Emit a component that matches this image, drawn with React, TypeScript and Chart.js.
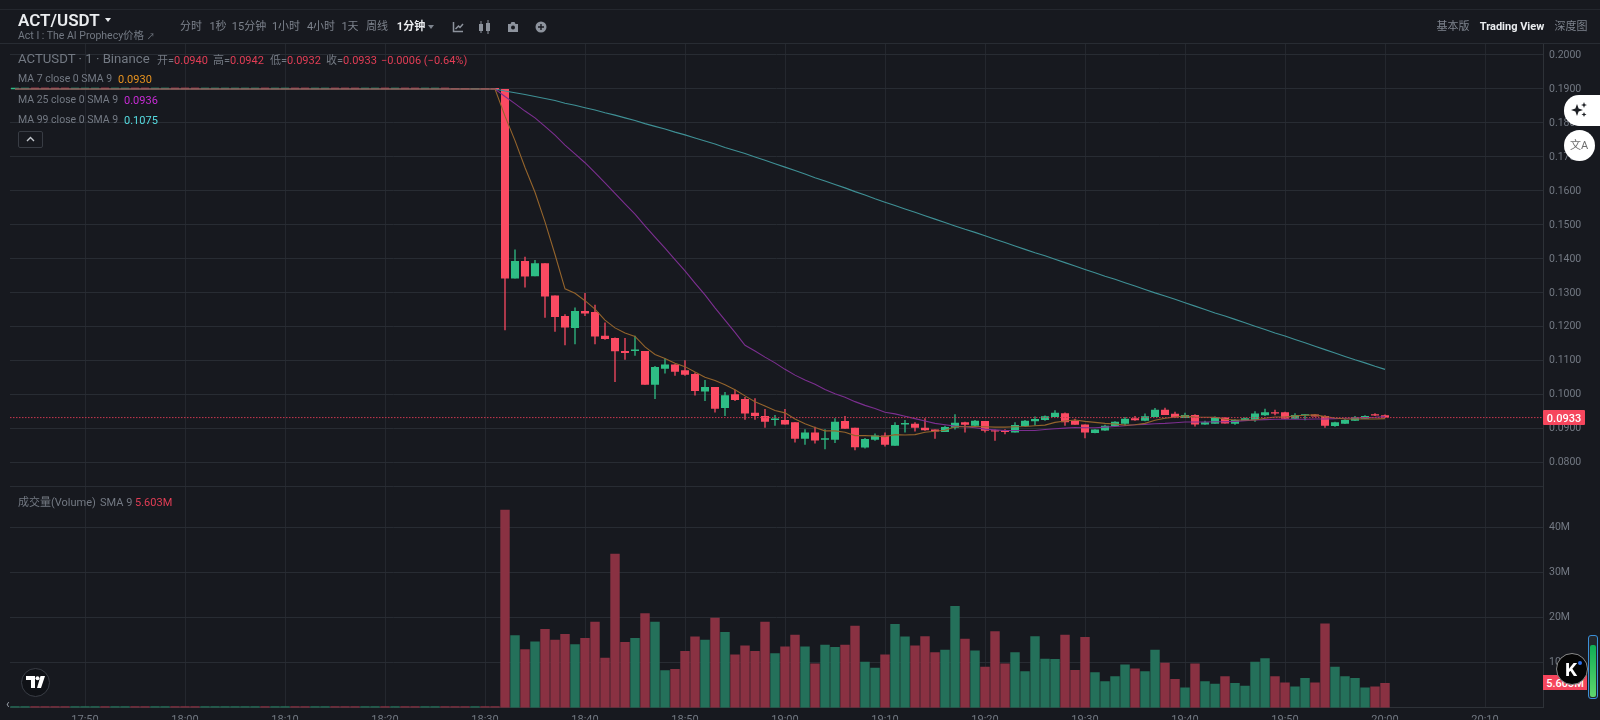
import React, { useEffect, useRef } from "react";
import { Chart, registerables } from "chart.js";

Chart.register(...registerables);

const flatTimes = ["17:43","17:44","17:45","17:46","17:47","17:48","17:49","17:50","17:51","17:52","17:53","17:54","17:55","17:56","17:57","17:58","17:59","18:00","18:01","18:02","18:03","18:04","18:05","18:06","18:07","18:08","18:09","18:10","18:11","18:12","18:13","18:14","18:15","18:16","18:17","18:18","18:19","18:20","18:21","18:22","18:23","18:24","18:25","18:26","18:27","18:28","18:29","18:30","18:31"];
const flatOpen = [0.18995,0.18995,0.19005,0.19005,0.19005,0.19005,0.18995,0.18995,0.18995,0.19005,0.18995,0.18995,0.19005,0.19005,0.18995,0.18995,0.19005,0.19005,0.19005,0.18995,0.18995,0.18995,0.18995,0.18995,0.18995,0.19005,0.18995,0.18995,0.19005,0.19005,0.18995,0.18995,0.19005,0.19005,0.19005,0.18995,0.18995,0.19005,0.18995,0.19005,0.19005,0.18995,0.18995,0.19005,0.19015,0.19015,0.18985,0.19015,0.19015];
const flatClose = [0.19005,0.19005,0.18995,0.18995,0.18995,0.18995,0.19005,0.19005,0.19005,0.18995,0.19005,0.19005,0.18995,0.18995,0.19005,0.19005,0.18995,0.18995,0.18995,0.19005,0.19005,0.19005,0.19005,0.19005,0.19005,0.18995,0.19005,0.19005,0.18995,0.18995,0.19005,0.19005,0.18995,0.18995,0.18995,0.19005,0.19005,0.18995,0.19005,0.18995,0.18995,0.19005,0.19005,0.18995,0.18985,0.18985,0.19015,0.18985,0.18985];
const flatLine = [0.19,0.19,0.19,0.19,0.19,0.19,0.19,0.19,0.19,0.19,0.19,0.19,0.19,0.19,0.19,0.19,0.19,0.19,0.19,0.19,0.19,0.19,0.19,0.19,0.19,0.19,0.19,0.19,0.19,0.19,0.19,0.19,0.19,0.19,0.19,0.19,0.19,0.19,0.19,0.19,0.19,0.19,0.19,0.19,0.19,0.19,0.19,0.19,0.19];
const flatVolume = [0.3,0.3,0.3,0.3,0.3,0.3,0.3,0.3,0.3,0.3,0.3,0.3,0.3,0.3,0.3,0.3,0.3,0.3,0.3,0.3,0.3,0.3,0.3,0.3,0.3,0.3,0.3,0.3,0.3,0.3,0.3,0.3,0.3,0.3,0.3,0.3,0.3,0.3,0.3,0.3,0.3,0.3,0.3,0.3,0.3,0.3,0.3,0.3,0.3];

const candleTimes = ["18:32","18:33","18:34","18:35","18:36","18:37","18:38","18:39","18:40","18:41","18:42","18:43","18:44","18:45","18:46","18:47","18:48","18:49","18:50","18:51","18:52","18:53","18:54","18:55","18:56","18:57","18:58","18:59","19:00","19:01","19:02","19:03","19:04","19:05","19:06","19:07","19:08","19:09","19:10","19:11","19:12","19:13","19:14","19:15","19:16","19:17","19:18","19:19","19:20","19:21","19:22","19:23","19:24","19:25","19:26","19:27","19:28","19:29","19:30","19:31","19:32","19:33","19:34","19:35","19:36","19:37","19:38","19:39","19:40","19:41","19:42","19:43","19:44","19:45","19:46","19:47","19:48","19:49","19:50","19:51","19:52","19:53","19:54","19:55","19:56","19:57","19:58","19:59","20:00"];
const opens = [0.19,0.1342,0.1394,0.1349,0.1387,0.1292,0.1232,0.1197,0.1247,0.1244,0.1174,0.1167,0.1129,0.1129,0.1129,0.103,0.1077,0.1089,0.1072,0.1061,0.101,0.1023,0.0961,0.1002,0.0988,0.0947,0.0938,0.0926,0.0926,0.0919,0.0871,0.0889,0.0868,0.0868,0.0923,0.0903,0.0845,0.0868,0.088,0.085,0.0913,0.0915,0.0903,0.0898,0.0891,0.0903,0.0919,0.0909,0.0923,0.0896,0.0895,0.0889,0.0908,0.0922,0.0926,0.0935,0.0946,0.0924,0.0913,0.0888,0.0895,0.0908,0.0915,0.0931,0.0924,0.0935,0.0956,0.0944,0.0932,0.0941,0.0913,0.0915,0.0933,0.0915,0.0924,0.0926,0.094,0.0949,0.0949,0.093,0.0939,0.0942,0.0938,0.0908,0.0915,0.0924,0.093,0.0943,0.094];
const highs = [0.19,0.1428,0.1406,0.1397,0.1387,0.1292,0.1237,0.1257,0.13,0.1265,0.1213,0.1169,0.1167,0.1174,0.1129,0.1085,0.1108,0.109,0.1102,0.1066,0.1044,0.1023,0.1008,0.1015,0.0994,0.099,0.0958,0.0941,0.0958,0.0919,0.0899,0.0906,0.0899,0.0931,0.0938,0.0903,0.0873,0.0886,0.0889,0.0919,0.0926,0.0919,0.0931,0.0898,0.0909,0.0943,0.0921,0.0926,0.0923,0.0898,0.0899,0.0919,0.0926,0.0936,0.0939,0.0955,0.0948,0.093,0.0913,0.0899,0.0912,0.0922,0.0935,0.0938,0.0945,0.0961,0.0962,0.095,0.0947,0.0943,0.0924,0.0936,0.0934,0.0928,0.0933,0.0952,0.0959,0.0956,0.095,0.0946,0.0942,0.0943,0.094,0.0921,0.0928,0.0938,0.094,0.0946,0.0942];
const lows = [0.119,0.1342,0.1316,0.1349,0.1227,0.1186,0.1146,0.1149,0.1232,0.1149,0.1162,0.1038,0.1103,0.1115,0.103,0.0988,0.1063,0.1056,0.1056,0.0998,0.0982,0.0948,0.0938,0.0982,0.0927,0.0927,0.0903,0.0909,0.0913,0.086,0.0853,0.0857,0.084,0.0858,0.09,0.0837,0.0842,0.0865,0.0848,0.085,0.0889,0.0892,0.0894,0.0871,0.0891,0.0898,0.0889,0.0907,0.0889,0.0865,0.0884,0.0889,0.0906,0.091,0.0924,0.0935,0.0909,0.0912,0.0872,0.0887,0.0894,0.0907,0.0909,0.0924,0.0922,0.0935,0.0941,0.0932,0.0932,0.0907,0.0912,0.0915,0.0916,0.0912,0.0924,0.0921,0.0938,0.094,0.0929,0.0929,0.0925,0.0936,0.0903,0.0906,0.0914,0.0923,0.0929,0.0938,0.0932];
const closes = [0.1342,0.1394,0.1348,0.1387,0.1289,0.1229,0.1198,0.1247,0.1239,0.1172,0.1164,0.1128,0.1123,0.1131,0.103,0.1082,0.1089,0.1068,0.1059,0.1011,0.1023,0.0959,0.0999,0.0985,0.0945,0.0938,0.0921,0.0928,0.0913,0.0871,0.0889,0.0866,0.087,0.0921,0.09,0.0846,0.087,0.088,0.0853,0.0911,0.0915,0.0903,0.0896,0.0892,0.0905,0.0918,0.0912,0.0924,0.0894,0.0892,0.0891,0.0911,0.0924,0.0929,0.0937,0.0947,0.0919,0.0912,0.0889,0.0898,0.0909,0.0921,0.093,0.0925,0.0937,0.0956,0.0941,0.0933,0.0941,0.0913,0.0919,0.0934,0.0916,0.0926,0.0931,0.0945,0.0949,0.0945,0.093,0.0941,0.0941,0.0936,0.0909,0.0919,0.0926,0.0934,0.0938,0.0939,0.0933];
const volumes = [44.0,16.1,13.0,14.7,17.5,15.1,16.4,14.1,15.5,19.1,11.1,34.2,14.6,15.5,21.0,19.1,8.3,8.6,12.6,15.8,15.1,20.0,16.8,11.8,13.8,12.6,19.1,12.1,13.6,16.2,13.6,9.8,14.0,13.5,14.0,18.2,10.2,8.9,11.8,18.6,15.8,13.8,15.9,12.3,12.9,22.6,15.3,12.7,9.1,17.0,9.8,12.3,8.1,15.9,10.9,10.8,16.2,8.4,15.7,7.9,5.9,7.0,9.6,8.7,8.1,12.9,10.0,6.4,4.5,9.8,5.9,5.3,7.0,5.5,4.9,10.2,11.0,7.0,5.6,4.7,6.6,5.6,18.7,9.1,7.0,6.6,4.5,4.7,5.5];
const ma7 = [0.182,0.1748,0.1669,0.1596,0.1509,0.1413,0.1312,0.1299,0.1277,0.1252,0.122,0.1197,0.1182,0.1172,0.1141,0.1119,0.1107,0.1093,0.1083,0.1067,0.1052,0.1042,0.103,0.1015,0.0997,0.098,0.0967,0.0954,0.0947,0.0929,0.0915,0.0904,0.0894,0.0894,0.089,0.088,0.088,0.0879,0.0877,0.0883,0.0882,0.0883,0.089,0.0893,0.0896,0.0906,0.0906,0.0907,0.0906,0.0905,0.0905,0.0906,0.0907,0.0909,0.0911,0.0919,0.0923,0.0926,0.0922,0.0919,0.0916,0.0914,0.0911,0.0912,0.0916,0.0925,0.0931,0.0935,0.0938,0.0935,0.0934,0.0934,0.0928,0.0926,0.0926,0.0926,0.0931,0.0935,0.0935,0.0938,0.094,0.0941,0.0936,0.0932,0.0929,0.0929,0.0929,0.0929,0.093];
const ma25 = [0.1878,0.1857,0.1835,0.1815,0.179,0.1764,0.1735,0.1709,0.1683,0.1654,0.1624,0.1593,0.1562,0.1532,0.1497,0.1464,0.1432,0.1398,0.1365,0.1329,0.1294,0.1256,0.122,0.1184,0.1146,0.1129,0.1111,0.1094,0.1075,0.1058,0.1044,0.1031,0.1016,0.1003,0.0993,0.098,0.0969,0.096,0.0949,0.0944,0.0937,0.093,0.0923,0.0916,0.0912,0.0908,0.0906,0.0903,0.0899,0.0897,0.0895,0.0895,0.0895,0.0895,0.0898,0.09,0.0902,0.0904,0.0903,0.0903,0.0905,0.0907,0.0909,0.0912,0.0913,0.0915,0.0916,0.0918,0.092,0.092,0.092,0.0921,0.0921,0.0922,0.0924,0.0926,0.0927,0.0928,0.0928,0.0928,0.0928,0.0929,0.0929,0.093,0.0931,0.0932,0.0933,0.0934,0.0936];
const ma99 = [0.1894,0.1889,0.1884,0.1878,0.1872,0.1866,0.1858,0.1852,0.1845,0.1838,0.183,0.1823,0.1815,0.1807,0.1798,0.179,0.1782,0.1773,0.1765,0.1756,0.1747,0.1738,0.1728,0.1719,0.171,0.17,0.169,0.168,0.167,0.166,0.165,0.1639,0.1629,0.1619,0.1609,0.1598,0.1588,0.1577,0.1567,0.1557,0.1547,0.1537,0.1527,0.1517,0.1507,0.1497,0.1487,0.1478,0.1468,0.1458,0.1448,0.1438,0.1428,0.1418,0.1409,0.1399,0.1389,0.1379,0.1369,0.1359,0.1349,0.134,0.133,0.132,0.131,0.13,0.1291,0.1281,0.1271,0.1261,0.1251,0.1241,0.1232,0.1222,0.1212,0.1202,0.1192,0.1182,0.1173,0.1163,0.1153,0.1143,0.1133,0.1123,0.1113,0.1103,0.1094,0.1084,0.1075];

const priceTicks = [0.2,0.19,0.18,0.17,0.16,0.15,0.14,0.13,0.12,0.11,0.1,0.09,0.08];
const volumeTicks = [40,30,20,10];
const timeTicks = ["17:50","18:00","18:10","18:20","18:30","18:40","18:50","19:00","19:10","19:20","19:30","19:40","19:50","20:00","20:10"];
const lastPrice = 0.0933;
const lastPriceLabel = "0.0933";
const lastVolumeLabel = "5.603M";

const BG = "#17191f";
const UP = "#2ebd85";
const DOWN = "#fb4a62";
const VOL_UP = "#24705a";
const VOL_DOWN = "#893142";
const TEXT = "#737983";
const FONT = 'Roboto, "Noto Sans CJK SC", sans-serif';

const minuteOf = (t: string) => {
  const [h, m] = t.split(":").map(Number);
  return h * 60 + m;
};
const labelOf = (v: number) => {
  const h = Math.floor(v / 60);
  const m = v % 60;
  return `${h}:${String(m).padStart(2, "0")}`;
};

const X_MIN = 1062.5;
const X_MAX = 1215.8;
const PRICE_MIN = 0.07294;
const PRICE_MAX = 0.20353;
const VOL_MAX = 49.1;

const T = ({ x, y, c, s, w, a, children }: any) => (
  <span
    style={{
      position: "absolute",
      left: x,
      top: y,
      transform: `translate(${a === "c" ? "-50%" : "0"},-50%)`,
      color: c || TEXT,
      fontSize: s || 11,
      fontWeight: w || 400,
      fontFamily: FONT,
      whiteSpace: "nowrap",
      lineHeight: 1,
    }}
  >
    {children}
  </span>
);

const Box = ({ style }: any) => <div style={{ position: "absolute", ...style }} />;

export default function App() {
  const ref = useRef<HTMLCanvasElement | null>(null);

  useEffect(() => {
    document.body.style.margin = "0";
    document.body.style.overflow = "hidden";
    document.body.style.background = BG;
    const allTimes = [...flatTimes, ...candleTimes];
    const xs = allTimes.map(minuteOf);
    const allOpen = [...flatOpen, ...opens];
    const allClose = [...flatClose, ...closes];
    const allHigh = [...flatLine, ...highs];
    const allLow = [...flatLine, ...lows];
    const allVol = [...flatVolume, ...volumes];
    const isUp = allClose.map((c, i) => c >= allOpen[i]);
    const candleColors = isUp.map((u) => (u ? UP : DOWN));
    const volColors = isUp.map((u) => (u ? VOL_UP : VOL_DOWN));
    const line = (label: string, vals: number[], color: string, order: number) => ({
      type: "line" as const,
      label,
      data: [...flatLine, ...vals].map((y, i) => ({ x: xs[i], y })),
      borderColor: color,
      borderWidth: 1.1,
      pointRadius: 0,
      tension: 0,
      yAxisID: "y",
      order,
    });

    const chart = new Chart(ref.current as HTMLCanvasElement, {
      type: "bar",
      data: {
        datasets: [
          {
            type: "bar",
            label: "Volume",
            data: allVol.map((y, i) => ({ x: xs[i], y })),
            backgroundColor: volColors,
            yAxisID: "yv",
            grouped: false,
            categoryPercentage: 1,
            barPercentage: 0.94,
            order: 6,
          },
          {
            type: "bar",
            label: "Wicks",
            data: allLow.map((l, i) => ({ x: xs[i], y: [l, allHigh[i]] })),
            backgroundColor: candleColors,
            yAxisID: "y",
            grouped: false,
            categoryPercentage: 1,
            barPercentage: 0.13,
            order: 5,
          },
          {
            type: "bar",
            label: "Bodies",
            data: allOpen.map((o, i) => ({ x: xs[i], y: [o, allClose[i]] })),
            backgroundColor: candleColors,
            yAxisID: "y",
            grouped: false,
            categoryPercentage: 1,
            barPercentage: 0.8,
            minBarLength: 1.4,
            order: 4,
          },
          line("MA 99", ma99, "#3f9095", 3),
          line("MA 25", ma25, "#7c2f90", 2),
          line("MA 7", ma7, "#94642c", 1),
          {
            type: "line",
            label: "Last",
            data: [
              { x: X_MIN, y: lastPrice },
              { x: X_MAX, y: lastPrice },
            ],
            borderColor: "#c9384f",
            borderWidth: 1,
            borderDash: [1.5, 1.5],
            pointRadius: 0,
            yAxisID: "y",
            order: 0,
          },
        ],
      } as any,
      options: {
        animation: false,
        responsive: false,
        devicePixelRatio: 1,
        layout: { padding: { left: 10, top: 43, right: 0, bottom: 0 } },
        plugins: { legend: { display: false }, tooltip: { enabled: false } },
        scales: {
          x: {
            type: "linear",
            offset: false,
            min: X_MIN,
            max: X_MAX,
            afterBuildTicks: (s: any) => {
              s.ticks = timeTicks.map((t) => ({ value: minuteOf(t) }));
            },
            afterFit: (s: any) => {
              s.height = 12;
            },
            grid: { offset: false, color: "#24272e", drawTicks: false },
            border: { color: "#2e3238" },
            ticks: {
              autoSkip: false,
              maxRotation: 0,
              padding: 6,
              color: TEXT,
              font: { family: FONT, size: 11 },
              callback: (v: any) => labelOf(Number(v)),
            },
          },
          y: {
            type: "linear",
            position: "right",
            stack: "panes",
            stackWeight: 444,
            min: PRICE_MIN,
            max: PRICE_MAX,
            afterBuildTicks: (s: any) => {
              s.ticks = priceTicks.map((value) => ({ value }));
            },
            afterFit: (s: any) => {
              s.width = 57;
            },
            grid: { color: "#282c33", drawTicks: false },
            border: { color: "#2e3238" },
            ticks: {
              padding: 6,
              color: TEXT,
              font: { family: FONT, size: 10.5 },
              callback: (v: any) => Number(v).toFixed(4),
            },
          },
          yv: {
            type: "linear",
            position: "right",
            stack: "panes",
            stackWeight: 221,
            min: 0,
            max: VOL_MAX,
            afterBuildTicks: (s: any) => {
              s.ticks = [{ value: VOL_MAX }, ...volumeTicks.map((value) => ({ value }))];
            },
            afterFit: (s: any) => {
              s.width = 57;
            },
            grid: { color: "#282c33", drawTicks: false },
            border: { color: "#2e3238" },
            ticks: {
              padding: 6,
              color: TEXT,
              font: { family: FONT, size: 10.5 },
              callback: (v: any) => (volumeTicks.includes(Number(v)) ? `${v}M` : ""),
            },
          },
        },
      } as any,
    });
    return () => chart.destroy();
  }, []);

  const RED = "#e23d55";
  const icon = { stroke: "#8d939d", fill: "none", strokeWidth: 1.5 };
  return (
    <div style={{ position: "fixed", left: 0, top: 0, width: 1600, height: 720, overflow: "hidden", background: BG }}>
      <canvas ref={ref} width={1600} height={720} style={{ position: "absolute", left: 0, top: 0, width: 1600, height: 720 }} />

      <Box style={{ left: 0, top: 9, width: 1600, height: 1, background: "#24272e" }} />
      <Box style={{ left: 0, top: 43, width: 1600, height: 1, background: "#282c33" }} />

      <T x={18} y={20} c="#eaecef" s={17} w={600}>ACT/USDT</T>
      <Box style={{ left: 105, top: 18, width: 0, height: 0, borderLeft: "3.5px solid transparent", borderRight: "3.5px solid transparent", borderTop: "4px solid #eaecef" }} />
      <T x={18} y={36} s={10.5}>Act I : The AI Prophecy价格 <span style={{ fontSize: 8 }}>↗</span></T>

      <T x={191} y={26} a="c" c="#7d838d">分时</T>
      <T x={218} y={26} a="c" c="#7d838d">1秒</T>
      <T x={249} y={26} a="c" c="#7d838d">15分钟</T>
      <T x={286} y={26} a="c" c="#7d838d">1小时</T>
      <T x={321} y={26} a="c" c="#7d838d">4小时</T>
      <T x={350} y={26} a="c" c="#7d838d">1天</T>
      <T x={377} y={26} a="c" c="#7d838d">周线</T>
      <T x={411} y={26} a="c" c="#eaecef" w={700}>1分钟</T>
      <Box style={{ left: 428, top: 25, width: 0, height: 0, borderLeft: "3px solid transparent", borderRight: "3px solid transparent", borderTop: "4px solid #7d838d" }} />

      <svg style={{ position: "absolute", left: 452, top: 21 }} width={12} height={12}>
        <path d="M1.5 1v9.5H11M3.5 8l3-3 1.5 1.5L11 3" {...icon} />
      </svg>
      <svg style={{ position: "absolute", left: 478, top: 20 }} width={13} height={14}>
        <rect x={1} y={4} width={4} height={7} fill="#8d939d" />
        <rect x={8} y={3} width={4} height={8} fill="#8d939d" />
        <path d="M3 1v12M10 0v14" stroke="#8d939d" strokeWidth={1} />
      </svg>
      <svg style={{ position: "absolute", left: 507, top: 21 }} width={12} height={12}>
        <path d="M1 3h2.5l1-2h3l1 2H11v8H1z" fill="#8d939d" />
        <circle cx={6} cy={6.5} r={2} fill={BG} />
      </svg>
      <svg style={{ position: "absolute", left: 535, top: 21 }} width={12} height={12}>
        <circle cx={6} cy={6} r={5.5} fill="#8d939d" />
        <path d="M6 3v6M3 6h6" stroke={BG} strokeWidth={1.4} />
      </svg>

      <T x={1453} y={26} a="c" c="#7d838d">基本版</T>
      <T x={1512} y={26} a="c" c="#eaecef" w={700}>Trading View</T>
      <T x={1571} y={26} a="c" c="#7d838d">深度图</T>

      <T x={18} y={59} s={13.2}>ACTUSDT · 1 · Binance</T>
      <T x={157} y={60}>开=<span style={{ color: RED }}>0.0940</span></T>
      <T x={213} y={60}>高=<span style={{ color: RED }}>0.0942</span></T>
      <T x={270} y={60}>低=<span style={{ color: RED }}>0.0932</span></T>
      <T x={326} y={60}>收=<span style={{ color: RED }}>0.0933</span></T>
      <T x={381} y={60} c={RED}>−0.0006 (−0.64%)</T>

      <T x={18} y={79} s={10.5}>MA 7 close 0 SMA 9</T>
      <T x={118} y={79} c="#e8931f">0.0930</T>
      <T x={18} y={100} s={10.5}>MA 25 close 0 SMA 9</T>
      <T x={124} y={100} c="#c92bd6">0.0936</T>
      <T x={18} y={120} s={10.5}>MA 99 close 0 SMA 9</T>
      <T x={124} y={120} c="#55dbe0">0.1075</T>
      <Box style={{ left: 18, top: 131, width: 25, height: 17, border: "1px solid #383c44", borderRadius: 2, boxSizing: "border-box" }} />
      <svg style={{ position: "absolute", left: 26, top: 136 }} width={9} height={6}>
        <path d="M1 5l3.5-3.5L8 5" stroke="#c4c8ce" fill="none" strokeWidth={1.4} />
      </svg>

      <T x={18} y={502}>成交量(Volume)</T>
      <T x={100} y={502}>SMA 9</T>
      <T x={135} y={502} c={RED}>5.603M</T>

      <Box style={{ left: 1543, top: 410, width: 42, height: 15, background: "#f6465d", borderRadius: 1 }} />
      <T x={1564} y={418} a="c" c="#ffffff" w={500}>{lastPriceLabel}</T>
      <Box style={{ left: 1543, top: 675, width: 44, height: 15, background: "#f6465d" }} />
      <T x={1565} y={683} a="c" c="#ffffff" w={500}>{lastVolumeLabel}</T>

      <Box style={{ left: 1564, top: 95, width: 36, height: 31, background: "#ffffff", borderRadius: "15px 0 0 15px" }} />
      <svg style={{ position: "absolute", left: 1570, top: 101 }} width={18} height={18}>
        <path d="M7 3l1.6 4.4L13 9l-4.4 1.6L7 15l-1.6-4.4L1 9l4.4-1.6z" fill="#1c1e23" />
        <path d="M14 1l.8 2.2L17 4l-2.2.8L14 7l-.8-2.2L11 4l2.2-.8zM14 11l.7 1.8L16.5 13.5l-1.8.7L14 16l-.7-1.8-1.8-.7 1.8-.7z" fill="#1c1e23" />
      </svg>
      <Box style={{ left: 1564, top: 130, width: 31, height: 31, background: "#ffffff", borderRadius: "50%" }} />
      <T x={1579} y={145} a="c" c="#6d6d6d" s={11}>文A</T>

      <Box style={{ left: 21, top: 668, width: 29, height: 29, background: "#101217", border: "1px solid #3a3e46", borderRadius: "50%", boxSizing: "border-box" }} />
      <svg style={{ position: "absolute", left: 26, top: 676 }} width={20} height={13}>
        <path d="M0 0h9v12H5V4H0zM11 12L14.5 0H19l-4 12z" fill="#ffffff" />
        <circle cx={11.5} cy={2.2} r={2} fill="#ffffff" />
      </svg>
      <T x={6} y={704} c="#9aa0a8" s={12}>‹</T>

      <Box style={{ left: 1556, top: 653, width: 32, height: 32, background: "#050505", border: "1.5px solid #8a8a8a", borderRadius: "50%", boxSizing: "border-box" }} />
      <T x={1571} y={669} a="c" c="#ffffff" s={19} w={700}>K</T>
      <Box style={{ left: 1578, top: 661, width: 4, height: 4, background: "#2f6fe8", borderRadius: "50%" }} />
      <Box style={{ left: 1588, top: 635, width: 10, height: 64, border: "1.5px solid #3b8fd8", borderRadius: 3, boxSizing: "border-box", background: "#23272c" }} />
      <Box style={{ left: 1590, top: 645, width: 6, height: 52, background: "linear-gradient(#0fae55,#5fd66d)", borderRadius: 2 }} />
    </div>
  );
}
